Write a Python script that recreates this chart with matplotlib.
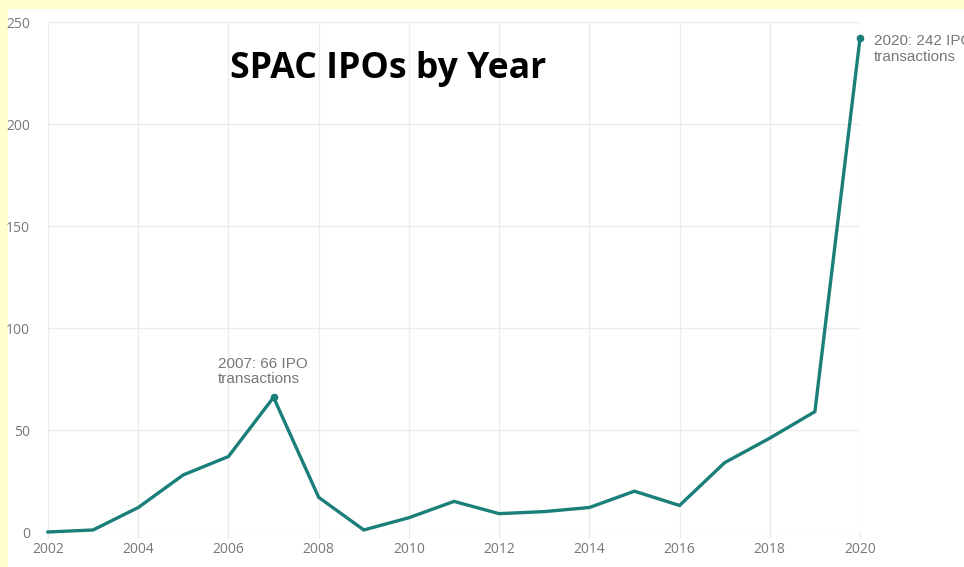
import matplotlib
matplotlib.use("Agg")
import matplotlib.pyplot as plt
from matplotlib.patches import Rectangle

years = list(range(2002, 2021))
ipos = [0, 1, 12, 28, 37, 66, 17, 1, 7, 15, 9, 10, 12, 20, 13, 34, 46, 59, 242]
xticks = list(range(2002, 2021, 2))
yticks = [0, 50, 100, 150, 200, 250]
title = "SPAC IPOs by Year"
notes = {2007: "2007: 66 IPO\ntransactions", 2020: "2020: 242 IPO\ntransactions"}

W, H = 964, 567
fig = plt.figure(figsize=(W / 100, H / 100), dpi=100)
fig.patch.set_facecolor("#ffffcc")
fig.patches.append(Rectangle((8 / W, 0), 1 - 8 / W, 1 - 9 / H, transform=fig.transFigure,
                             facecolor="white", edgecolor="none", zorder=-5))

ax = fig.add_axes([48 / W, 1 - 532 / H, (860 - 48) / W, (532 - 22) / H])
ax.set_zorder(1)
ax.set_facecolor("white")
color = "#1a7f79"
ax.plot(years, ipos, color=color, lw=2.4, solid_joinstyle="miter", zorder=3, clip_on=False)
for yr in notes:
    v = ipos[years.index(yr)]
    ax.plot([yr], [v], "o", color=color, ms=4.5, zorder=4, clip_on=False)

ax.set_xlim(2002, 2020)
ax.set_ylim(0, 250)
ax.set_xticks(xticks)
ax.set_yticks(yticks)
ax.grid(True, color="#ececec", lw=1)
ax.set_axisbelow(True)
for s in ax.spines.values():
    s.set_visible(False)
ax.tick_params(axis="x", length=4, color="#e6e6e6", pad=3, labelsize=10, labelcolor="#777777")
ax.tick_params(axis="y", length=0, pad=13, labelsize=10, labelcolor="#777777")
for lab in ax.get_xticklabels() + ax.get_yticklabels():
    lab.set_fontfamily("Open Sans")

# annotations
ax.annotate(notes[2007], xy=(2007, 66), xytext=(-56, 11), textcoords="offset pixels",
            fontsize=11, color="#777777", family="Liberation Sans", va="bottom", ha="left",
            linespacing=1.15)
ax.annotate(notes[2020], xy=(2020, 242), xytext=(14, 4), textcoords="offset pixels",
            fontsize=11, color="#777777", family="Liberation Sans", va="top", ha="left",
            linespacing=1.15, annotation_clip=False)

fig.text(388 / W, 1 - 69 / H, title, fontsize=25.7, fontweight="bold", family="Open Sans",
         ha="center", va="center", color="black")

fig.savefig("out.png", dpi=100, facecolor=fig.get_facecolor())
